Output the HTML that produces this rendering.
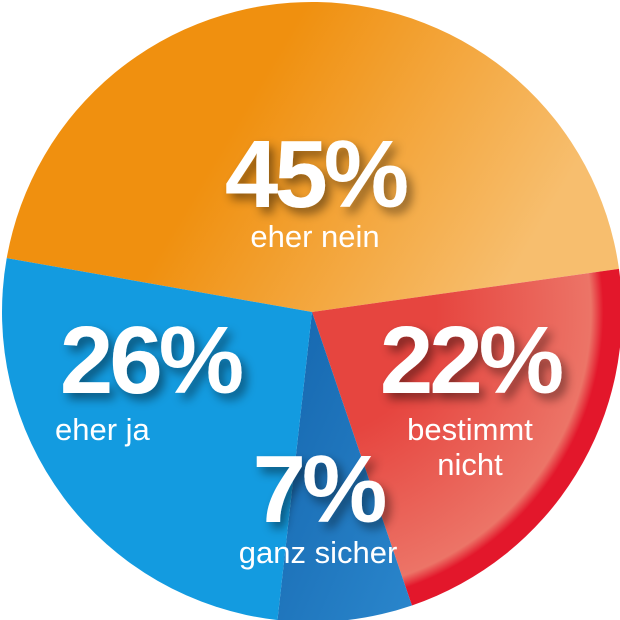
<!DOCTYPE html>
<html><head><meta charset="utf-8"><style>
html,body{margin:0;padding:0;background:#fff;width:620px;height:620px;overflow:hidden}
svg{display:block}
.big{font-family:"Liberation Sans",sans-serif;font-weight:bold;fill:#fff;font-size:96px;letter-spacing:-4px}
.sm{font-family:"Liberation Sans",sans-serif;fill:#fff;font-size:31px}
</style></head><body>
<svg id="chart" width="620" height="620" viewBox="0 0 620 620">
<defs>
<linearGradient id="gOr" x1="0" y1="0" x2="1" y2="0.3"><stop offset="0.45" stop-color="#f0900f"/><stop offset="1" stop-color="#f7be6e"/></linearGradient>
<radialGradient id="gRed" cx="312" cy="312" r="310" gradientUnits="userSpaceOnUse"><stop offset="0.4" stop-color="#e6453f"/><stop offset="0.9" stop-color="#ec7467"/><stop offset="0.94" stop-color="#e3172b"/></radialGradient>
<linearGradient id="gDb" x1="0" y1="0" x2="1" y2="1"><stop offset="0" stop-color="#1566ae"/><stop offset="1" stop-color="#2a86cc"/></linearGradient>
<filter id="sh" x="-20%" y="-20%" width="150%" height="150%"><feDropShadow dx="5" dy="6" stdDeviation="5" flood-color="#000" flood-opacity="0.45"/></filter>
</defs>
<g id="slices"></g>
<g filter="url(#sh)">
<text class="big" x="315" y="207" text-anchor="middle">45%</text>
<text class="big" x="150" y="393" text-anchor="middle">26%</text>
<text class="big" x="470" y="393" text-anchor="middle">22%</text>
<text class="big" x="318" y="522" text-anchor="middle">7%</text>
</g>
<text class="sm" x="315" y="247" text-anchor="middle">eher nein</text>
<text class="sm" x="55" y="440">eher ja</text>
<text class="sm" x="470" y="440" text-anchor="middle">bestimmt</text>
<text class="sm" x="470" y="475" text-anchor="middle">nicht</text>
<text class="sm" x="318" y="563" text-anchor="middle">ganz sicher</text>
</svg>
<script>
const categories=["eher nein","bestimmt nicht","ganz sicher","eher ja"];
const values=[45,22,7,26];
const fills=["url(#gOr)","url(#gRed)","url(#gDb)","#139be0"];
const cx=312,cy=312,R=310,start=190;
const g=document.getElementById('slices');
const total=values.reduce((a,b)=>a+b,0);
let a=start;
function pt(deg){const r=deg*Math.PI/180;return [cx+R*Math.cos(r),cy+R*Math.sin(r)];}
values.forEach((v,i)=>{
 const sweep=v/total*360;const p1=pt(a),p2=pt(a+sweep);
 const p=document.createElementNS('http://www.w3.org/2000/svg','path');
 p.setAttribute('d',`M${cx},${cy}L${p1[0]},${p1[1]}A${R},${R} 0 ${sweep>180?1:0} 1 ${p2[0]},${p2[1]}Z`);
 p.setAttribute('fill',fills[i]);
 
 
 g.appendChild(p);a+=sweep;
});
</script>
</body></html>
